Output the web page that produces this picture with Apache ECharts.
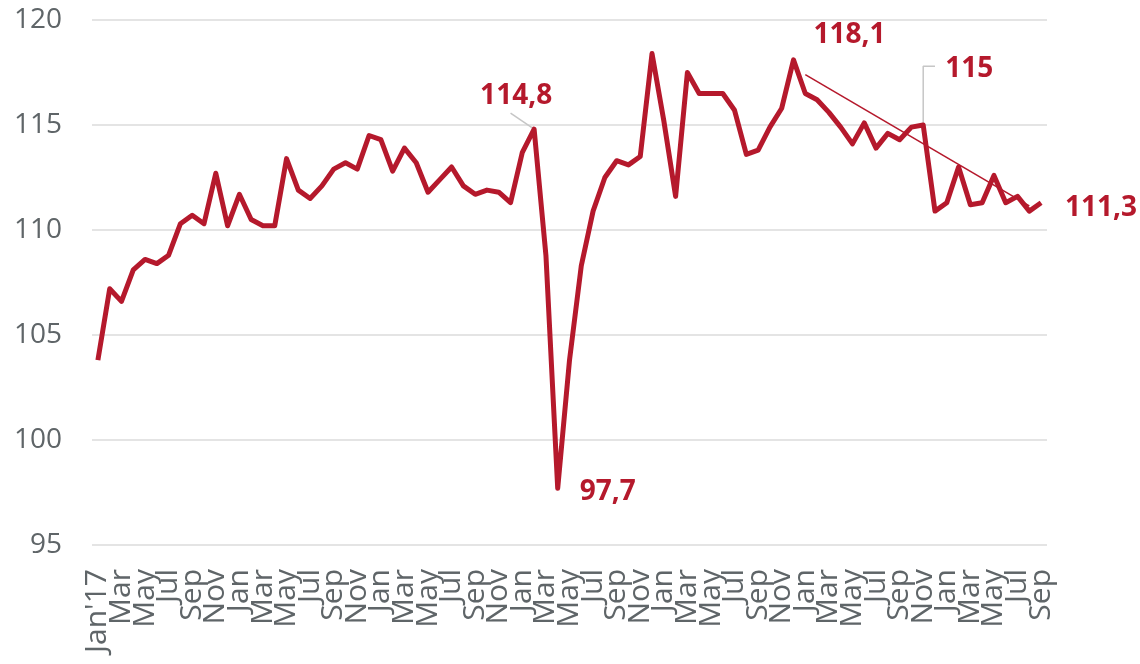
<!DOCTYPE html>
<html>
<head>
<meta charset="utf-8">
<script src="https://cdn.jsdelivr.net/npm/echarts@6/dist/echarts.min.js"></script>
<style>
  html, body { margin:0; padding:0; background:#ffffff; }
  #chart { width:1140px; height:664px; }
</style>
</head>
<body>
<div id="chart"></div>
<script>
// Monthly index, Jan 2017 - Sep 2023
const MONTHS = ['Jan','Feb','Mar','Apr','May','Jun','Jul','Aug','Sep','Oct','Nov','Dec'];
const FIRST_LABEL = "Jan'17";
const VALUES = [
  103.8, 107.2, 106.6, 108.1, 108.6, 108.4, 108.8, 110.3, 110.7, 110.3, 112.7, 110.2,
  111.7, 110.5, 110.2, 110.2, 113.4, 111.9, 111.5, 112.1, 112.9, 113.2, 112.9, 114.5,
  114.3, 112.8, 113.9, 113.2, 111.8, 112.4, 113.0, 112.1, 111.7, 111.9, 111.8, 111.3,
  113.7, 114.8, 108.8,  97.7, 103.8, 108.3, 110.9, 112.5, 113.3, 113.1, 113.5, 118.4,
  115.2, 111.6, 117.5, 116.5, 116.5, 116.5, 115.7, 113.6, 113.8, 114.9, 115.8, 118.1,
  116.5, 116.2, 115.6, 114.9, 114.1, 115.1, 113.9, 114.6, 114.3, 114.9, 115.0, 110.9,
  111.3, 113.0, 111.2, 111.3, 112.6, 111.3, 111.6, 110.9, 111.3
];
// thin trend line: [month index, value]
const TREND = [[60, 117.4], [79, 111.15]];
// annotated points (month index) and their label text
const NOTE_IDX = [37, 39, 59, 70, 80];
const NOTE_TXT = ['114,8', '97,7', '118,1', '115', '111,3'];
// grey leader lines for two of the notes, in [month index, value]
const LEADER_1148 = [[37, 114.8], [35.4, 115.57]];
const LEADER_115 = [[70, 115.05], [70.27, 117.8], [71.2, 117.8]];

const RED = '#b5192c';
const GREY = '#5f6568';
const FONT = "'Open Sans', sans-serif";

const categories = VALUES.map((_, i) => i === 0 ? FIRST_LABEL : MONTHS[i % 12]);

// label shifts from the default 'top' spot
const NOTE_MOVE = {
  37:{dx:-18, dy:-14}, 39:{dx:50, dy:23}, 59:{dx:56, dy:-6},
  70:{dx:46, dy:-37}, 80:{dx:60, dy:24}
};

const seriesData = VALUES.map((v, i) => {
  const k = NOTE_IDX.indexOf(i);
  if (k < 0) return v;
  return {
    value: v,
    label: { show:true, formatter:NOTE_TXT[k], position:'top',
      color:RED, fontFamily:FONT, fontSize:28, fontWeight:'bold' }
  };
});

const leader = data => ({
  type:'line', data, showSymbol:false, symbol:'none', silent:true,
  lineStyle:{ color:'#c6c6c6', width:1.5 }, z:2
});

const chart = echarts.init(document.getElementById('chart'), null, { renderer:'canvas' });
chart.setOption({
  backgroundColor:'#ffffff',
  animation:false,
  grid:{ left:92, right:93, top:20, bottom:119, containLabel:false },
  xAxis:{
    type:'category', data:categories, boundaryGap:true,
    axisLine:{ show:false }, axisTick:{ show:false },
    axisLabel:{ interval:0, rotate:90, margin:24, color:GREY, fontFamily:FONT, fontSize:30,
      lineHeight:22, hideOverlap:false,
      formatter:(v, i) => i % 2 ? '' : v }
  },
  yAxis:{
    type:'value', min:95, max:120, interval:5,
    axisLine:{ show:false }, axisTick:{ show:false },
    axisLabel:{ margin:30, color:GREY, fontFamily:FONT, fontSize:28 },
    splitLine:{ lineStyle:{ color:'#e4e4e4', width:2 } }
  },
  series:[
    leader(LEADER_1148),
    leader(LEADER_115),
    {
      type:'line', data:seriesData, showSymbol:true, symbol:'circle', symbolSize:0,
      lineStyle:{ color:RED, width:5, join:'round' },
      itemStyle:{ color:RED },
      labelLayout: p => NOTE_MOVE[p.dataIndex] || {},
      z:3
    },
    {
      type:'line', data:TREND, showSymbol:false, symbol:'none',
      lineStyle:{ color:RED, width:1.6 }, z:4
    }
  ]
});
</script>
</body>
</html>
